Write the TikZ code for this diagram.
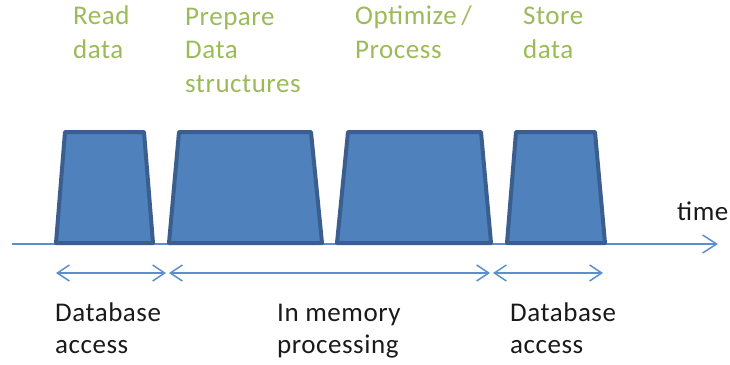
\documentclass[tikz,border=0pt]{standalone}
\usepackage{fontspec}
\setmainfont{Carlito}[LetterSpace=2]
\usetikzlibrary{arrows.meta}
\definecolor{boxfill}{HTML}{4F81BD}
\definecolor{boxline}{HTML}{3A5F8F}
\definecolor{axiscol}{HTML}{5B8FD0}
\definecolor{labgreen}{HTML}{9BBB59}
\definecolor{labdark}{HTML}{1A1A1A}
\tikzset{
  spantip/.tip={Straight Barb[length=12pt,width=16pt,line width=1.5pt]},
  axistip/.tip={Straight Barb[length=14pt,width=18pt,line width=1.5pt]},
}
\begin{document}
\begin{tikzpicture}[x=1pt,y=-1pt,
  phase/.style={fill=boxfill,draw=boxline,line width=4pt,line join=round},
  toplab/.style={anchor=base west,inner sep=0pt,align=left,text=labgreen,font=\fontsize{27}{33.5}\selectfont},
  botlab/.style={anchor=base west,inner sep=0pt,align=left,text=labdark,font=\fontsize{27}{32}\selectfont},
  axisline/.style={draw=axiscol,line width=1.5pt},
]
\useasboundingbox (0,0) rectangle (730,364);
% time axis
\coordinate (ax0) at (12,244);
\coordinate (ax1) at (718,244);
\draw[axisline,-axistip] (ax0) -- (ax1);
% phases
\draw[phase] (56,243) -- (65,132) -- (144,132) -- (153,243) -- cycle;
\draw[phase] (169,243) -- (179,132) -- (311,132) -- (322,243) -- cycle;
\draw[phase] (337,243) -- (348,132) -- (481,132) -- (491,243) -- cycle;
\draw[phase] (507,243) -- (516,132) -- (595,132) -- (605,243) -- cycle;
% top labels (base anchor = last line's baseline)
\node[toplab] (read) at (73,58) {Read\\data};
\node[toplab] (prep) at (185,92) {Prepare\\Data\\structures};
\node[toplab] (opt) at (355,58) {Optimize\kern-2pt{} /\\Process};
\node[toplab] (store) at (523,58) {Store\\data};
\node[botlab] (time) at (677,220) {time};
% span arrows
\coordinate (s1a) at (56,273);
\coordinate (s1b) at (166,273);
\coordinate (s2a) at (169,273);
\coordinate (s2b) at (490,273);
\coordinate (s3a) at (493,273);
\coordinate (s3b) at (603,273);
\draw[axisline,spantip-spantip] (s1a) -- (s1b);
\draw[axisline,spantip-spantip] (s2a) -- (s2b);
\draw[axisline,spantip-spantip] (s3a) -- (s3b);
% bottom labels
\node[botlab] (db1) at (55,353) {Database\\access};
\node[botlab] (mem) at (277,353) {In memory\\processing};
\node[botlab] (db2) at (510,353) {Database\\access};
\end{tikzpicture}
\end{document}
